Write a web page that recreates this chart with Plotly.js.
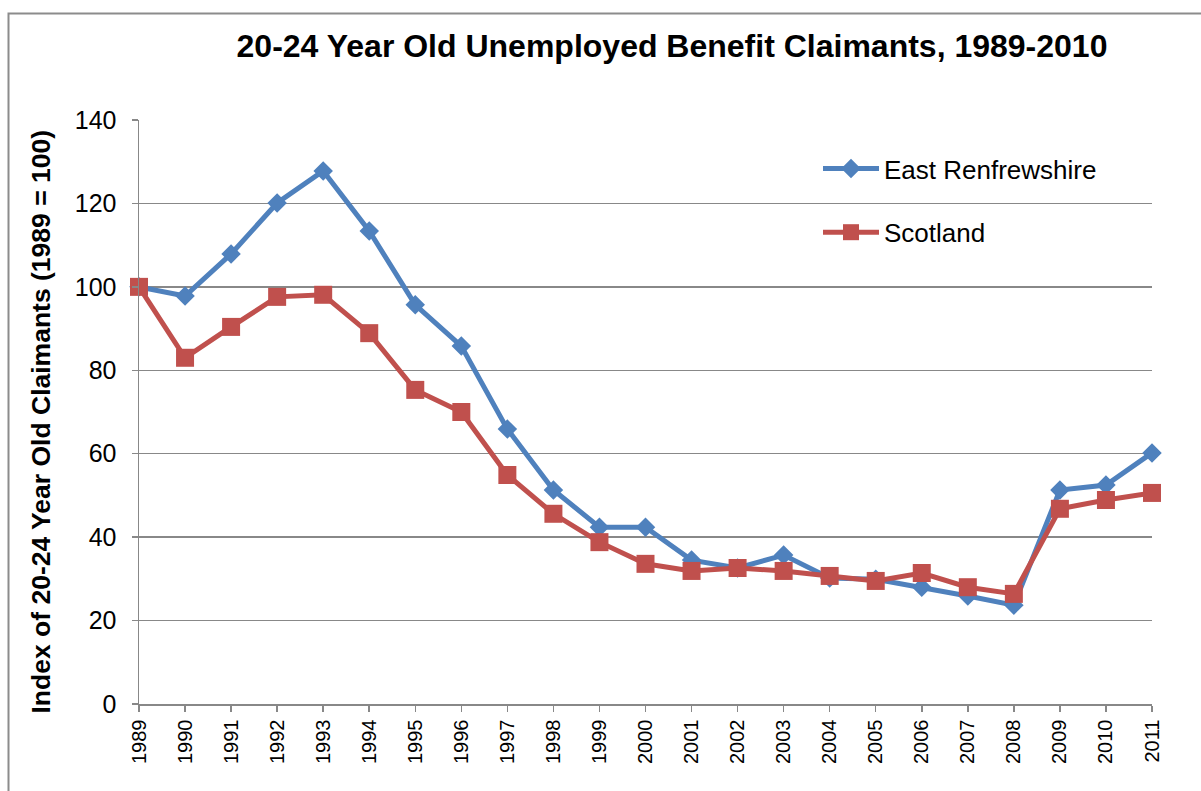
<!DOCTYPE html>
<html>
<head>
<meta charset="utf-8">
<script src="https://cdn.plot.ly/plotly-3.0.1.min.js"></script>
<style>
html,body{margin:0;padding:0;background:#fff;}
#chart{width:1201px;height:791px;}
</style>
</head>
<body>
<div id="chart"></div>
<script>
const years = ["1989","1990","1991","1992","1993","1994","1995","1996","1997","1998","1999","2000","2001","2002","2003","2004","2005","2006","2007","2008","2009","2010","2011"];
const eastRenfrewshire = [100,97.8,107.9,120.1,127.8,113.4,95.7,85.8,65.9,51.3,42.4,42.4,34.5,32.6,35.7,30.2,29.9,28.0,25.9,23.7,51.3,52.5,60.2];
const scotland = [100,83.0,90.4,97.6,98.1,88.9,75.3,70.0,54.9,45.6,38.8,33.6,31.9,32.6,31.9,30.7,29.5,31.4,28.0,26.4,46.8,48.9,50.6];
const seriesNames = ["East Renfrewshire","Scotland"];
const yTitle = "Index of 20-24 Year Old Claimants (1989 = 100)";

const FONT = "Liberation Sans, Arial, sans-serif";
const BLUE = "#4F81BD";
const RED = "#C0504D";
const GRID = "#888888";

const traces = [
  {
    x: years, y: eastRenfrewshire, name: seriesNames[0], type: "scatter", mode: "lines+markers",
    line: {color: BLUE, width: 5},
    marker: {symbol: "diamond", size: 15, color: BLUE},
    cliponaxis: false, legendgroup: "a"
  },
  {
    x: years, y: scotland, name: seriesNames[1], type: "scatter", mode: "lines+markers",
    line: {color: RED, width: 5},
    marker: {symbol: "square", size: 18, color: RED},
    cliponaxis: false, legendgroup: "b"
  }
];

const L = 139, R = 1152, T = 120, B = 704;
const W = 1201, H = 791;
const px = v => (v - L) / (R - L);
const py = v => (B - v) / (B - T);

const layout = {
  width: W, height: H,
  margin: {l: L, r: W - R, t: T, b: H - B, pad: 0},
  paper_bgcolor: "#ffffff",
  plot_bgcolor: "#ffffff",
  font: {family: FONT, color: "#000000"},
  showlegend: true,
  title: {
    text: "<b>20-24 Year Old Unemployed Benefit Claimants, 1989-2010</b>",
    font: {family: FONT, size: 32, color: "#000000"},
    xref: "container", yref: "container",
    x: 672 / W, y: 1 - 46 / H, xanchor: "center", yanchor: "middle"
  },
  xaxis: {
    type: "category",
    range: [0, years.length - 1],
    showgrid: false,
    showline: true, linecolor: GRID, linewidth: 1.5,
    ticks: "outside", ticklen: 6, tickcolor: GRID, tickwidth: 1.5,
    tickangle: -90,
    tickfont: {family: FONT, size: 20, color: "#000000"},
    zeroline: false,
    fixedrange: true
  },
  yaxis: {
    range: [0, 140],
    dtick: 20,
    showgrid: true, gridcolor: GRID, gridwidth: 1.5,
    showline: true, linecolor: GRID, linewidth: 1.5,
    ticks: "outside", ticklen: 6, tickcolor: GRID, tickwidth: 1.5,
    ticklabelstandoff: 10,
    tickfont: {family: FONT, size: 25, color: "#000000"},
    zeroline: false,
    fixedrange: true
  },
  annotations: [
    {
      text: "<b>" + yTitle + "</b>",
      xref: "paper", yref: "paper",
      x: px(40), y: py(421.5), xanchor: "center", yanchor: "middle",
      textangle: -90, showarrow: false,
      font: {family: FONT, size: 26.5, color: "#000000"}
    }
  ],
  legend: {
    x: px(818), y: py(145), xanchor: "left", yanchor: "top",
    font: {family: FONT, size: 26, color: "#000000"},
    bgcolor: "rgba(0,0,0,0)",
    traceorder: "grouped",
    tracegroupgap: 27,
    itemwidth: 56
  },
  shapes: [
    {type: "rect", xref: "paper", yref: "paper",
     x0: px(8.5), x1: px(1210), y0: py(810), y1: py(13.5),
     line: {color: "#8c8c8c", width: 2}, fillcolor: "rgba(0,0,0,0)", layer: "below"}
  ]
};

Plotly.newPlot("chart", traces, layout, {displayModeBar: false, staticPlot: true});
</script>
</body>
</html>
